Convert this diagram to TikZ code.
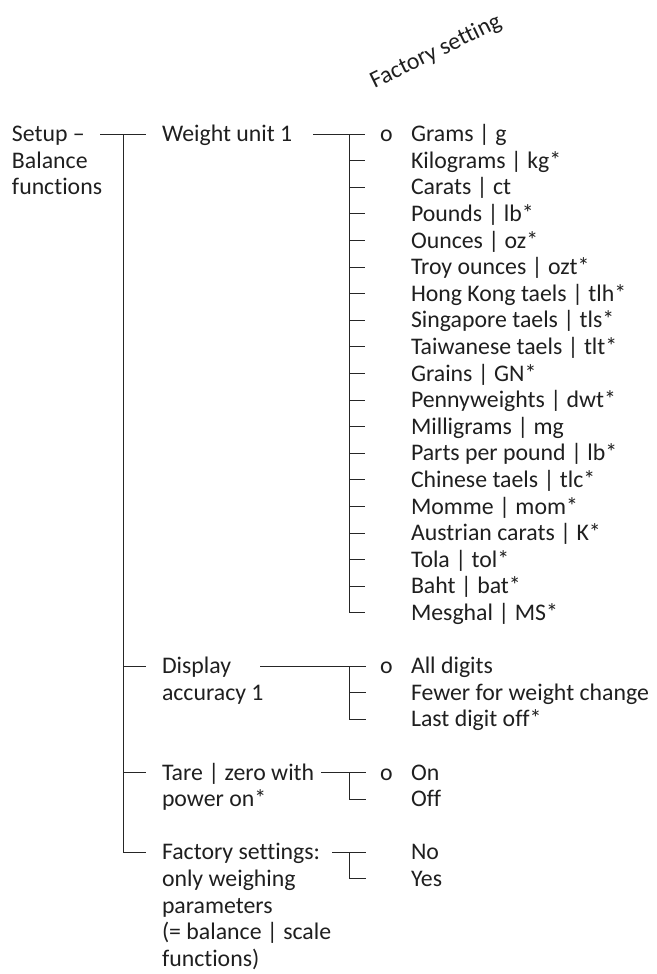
\documentclass[tikz,border=0pt]{standalone}
\usepackage{fontspec}
\setmainfont{Carlito}[Ligatures={TeX,NoCommon}]
\begin{document}
\begin{tikzpicture}[x=1pt,y=-1pt,
  txt/.style={anchor=base west,inner sep=0pt,outer sep=0pt,text=black!88,
    font=\fontsize{23.8}{26.6}\selectfont},
  tree/.style={draw=black!85,line width=0.9pt}]
\useasboundingbox (0,0) rectangle (656,974);
\pgfmathsetmacro{\yz}{134}
\pgfmathsetmacro{\dy}{26.6}
\pgfmathsetmacro{\bo}{7.6}

% rotated heading
\node[txt,anchor=center,rotate=26] (fs) at (436,52) {Factory setting};

% level 1
\foreach \t [count=\i from 0] in {Setup –,Balance,functions}
  \node[txt] (s\i) at (12,{\yz+\dy*\i+\bo}) {\t};

% level 2 texts
\foreach \n/\t in {0/Weight unit 1,20/Display,21/accuracy 1,24/Tare | zero with,25/power on*,
  27/Factory settings:,28/only weighing,29/parameters,30/(= balance | scale,31/functions)}
  \node[txt] (b\n) at (162,{\yz+\dy*\n+\bo}) {\t};

% options
\foreach \n/\t in {0/Grams | g,1/Kilograms | kg*,2/Carats | ct,3/Pounds | lb*,4/Ounces | oz*,
  5/Troy ounces | ozt*,6/Hong Kong taels | tlh*,7/Singapore taels | tls*,8/Taiwanese taels | tlt*,
  9/Grains | GN*,10/Pennyweights | dwt*,11/Milligrams | mg,12/Parts per pound | lb*,
  13/Chinese taels | tlc*,14/Momme | mom*,15/Austrian carats | K*,16/Tola | tol*,17/Baht | bat*,
  18/Mesghal | MS*,20/All digits,21/Fewer for weight change,22/Last digit off*,24/On,25/Off,
  27/No,28/Yes}
  \node[txt] (o\n) at (411,{\yz+\dy*\n+\bo}) {\t};

% factory-setting markers
\foreach \n in {0,20,24}
  \node[txt] (m\n) at (380,{\yz+\dy*\n+\bo}) {o};

% ---- coordinates of the tree lines ----
% trunk
\coordinate (ta) at (100,{\yz});
\coordinate (tb) at (146,{\yz});
\coordinate (tt) at (123,{\yz});
\coordinate (tv) at (123,{\yz+\dy*27});
\coordinate (te) at (146,{\yz+\dy*27});
\foreach \n in {20,24} {
  \coordinate (tl\n) at (123,{\yz+\dy*\n});
  \coordinate (tr\n) at (146,{\yz+\dy*\n});
}
% weight unit
\coordinate (wa) at (313,{\yz});
\coordinate (wb) at (365,{\yz});
\coordinate (wt) at (349,{\yz});
\coordinate (wv) at (349,{\yz+\dy*18});
\coordinate (we) at (365,{\yz+\dy*18});
\foreach \n in {1,...,17} {
  \coordinate (wl\n) at (349,{\yz+\dy*\n});
  \coordinate (wr\n) at (365,{\yz+\dy*\n});
}
% display accuracy
\coordinate (da) at (260,{\yz+\dy*20});
\coordinate (db) at (366,{\yz+\dy*20});
\coordinate (dt) at (349,{\yz+\dy*20});
\coordinate (dv) at (349,{\yz+\dy*22});
\coordinate (de) at (366,{\yz+\dy*22});
\coordinate (dl) at (349,{\yz+\dy*21});
\coordinate (dr) at (366,{\yz+\dy*21});
% tare
\coordinate (ra) at (321,{\yz+\dy*24});
\coordinate (rb) at (366,{\yz+\dy*24});
\coordinate (rt) at (349,{\yz+\dy*24});
\coordinate (rv) at (349,{\yz+\dy*25});
\coordinate (re) at (366,{\yz+\dy*25});
% factory settings
\coordinate (fa) at (332,{\yz+\dy*27});
\coordinate (fb) at (366,{\yz+\dy*27});
\coordinate (ft) at (349,{\yz+\dy*27});
\coordinate (fv) at (349,{\yz+\dy*28});
\coordinate (fe) at (366,{\yz+\dy*28});

% ---- tree lines ----
\draw[tree] (ta) -- (tb);
\draw[tree] (tt) -- (tv) -- (te);
\foreach \n in {20,24} \draw[tree] (tl\n) -- (tr\n);

\draw[tree] (wa) -- (wb);
\draw[tree] (wt) -- (wv) -- (we);
\foreach \n in {1,...,17} \draw[tree] (wl\n) -- (wr\n);

\draw[tree] (da) -- (db);
\draw[tree] (dt) -- (dv) -- (de);
\draw[tree] (dl) -- (dr);

\draw[tree] (ra) -- (rb);
\draw[tree] (rt) -- (rv) -- (re);

\draw[tree] (fa) -- (fb);
\draw[tree] (ft) -- (fv) -- (fe);
\end{tikzpicture}
\end{document}
